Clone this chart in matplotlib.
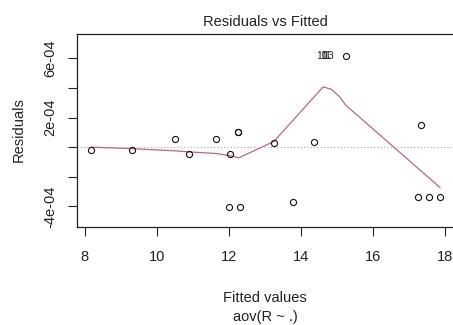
import matplotlib
matplotlib.use("Agg")
import matplotlib.pyplot as plt

plt.rcParams['font.family'] = ['Liberation Sans', 'DejaVu Sans']

# data
fitted = [8.17, 9.31, 10.51, 10.90, 11.65, 12.03, 12.25, 12.25, 12.00, 12.30,
          13.24, 13.77, 14.36, 17.32, 17.25, 17.56, 17.85, 15.23]
resid = [-0.2e-4, -0.2e-4, 0.56e-4, -0.47e-4, 0.56e-4, -0.47e-4, 1.0e-4, 1.0e-4,
         -4.05e-4, -4.05e-4, 0.27e-4, -3.7e-4, 0.36e-4, 1.47e-4, -3.38e-4,
         -3.38e-4, -3.38e-4, 6.17e-4]
id_labels = ["10", "11", "13"]
id_index = [17, 17, 17]

smooth_x = [8.17, 9.31, 10.51, 10.90, 11.65, 12.03, 12.27, 13.24, 14.61, 14.84,
            15.07, 15.23, 17.85]
smooth_y = [0.0, -0.1e-4, -0.25e-4, -0.32e-4, -0.43e-4, -0.58e-4, -0.72e-4,
            0.38e-4, 4.07e-4, 3.9e-4, 3.4e-4, 2.85e-4, -2.72e-4]

xticks = [8, 10, 12, 14, 16, 18]
yticks = [-4e-4, -2e-4, 0, 2e-4, 4e-4, 6e-4]
ytick_labels = ["-4e-04", "", "", "2e-04", "", "6e-04"]

W, H = 453, 325
fig = plt.figure(figsize=(W / 100, H / 100), dpi=100)
ax = fig.add_axes([77 / W, 1 - 227 / H, (454 - 77) / W, (227 - 34) / H])

ax.axhline(0, color='#aaaaaa', lw=0.8, ls=(0, (1, 2)), zorder=1)
ax.plot(smooth_x, smooth_y, color='#b86a7a', lw=0.9, zorder=2)
ax.plot(fitted, resid, ls='none', marker='o', ms=4.4, mfc='none', mec='#111111',
        mew=0.8, zorder=3)
offs = [-13, -10.5, -8.5]
for lab, i, o in zip(id_labels, id_index, offs):
    ax.annotate(lab, (fitted[i], resid[i]), xytext=(o, 0), textcoords='offset points',
                ha='right', va='center', fontsize=7.5, color='#222222')

ax.set_xlim(7.78, 18.24)
ax.set_ylim(-5.39e-4, 7.64e-4)
ax.set_xticks(xticks)
ax.set_xticklabels([str(t) for t in xticks])
ax.set_yticks(yticks)
ax.set_yticklabels(ytick_labels, rotation=90, va='center')
ax.tick_params(axis='both', direction='out', length=6.5, width=0.8, labelsize=10.5,
               colors='#222222')
ax.tick_params(axis='x', pad=10)
ax.tick_params(axis='y', pad=7.5)
for s in ax.spines.values():
    s.set_linewidth(0.9)
    s.set_color('#222222')

fig.text(265 / W, 1 - 21.5 / H, "Residuals vs Fitted", ha='center', va='center',
         fontsize=10.5, color='#222222')
fig.text(265 / W, 1 - 298 / H, "Fitted values", ha='center', va='center',
         fontsize=10.5, color='#222222')
fig.text(265 / W, 1 - 317 / H, "aov(R ~ .)", ha='center', va='center',
         fontsize=10.5, color='#222222')
fig.text(18.5 / W, 1 - 130 / H, "Residuals", ha='center', va='center',
         rotation=90, fontsize=10.5, color='#222222')

fig.savefig("out.png", dpi=100, facecolor='white')
